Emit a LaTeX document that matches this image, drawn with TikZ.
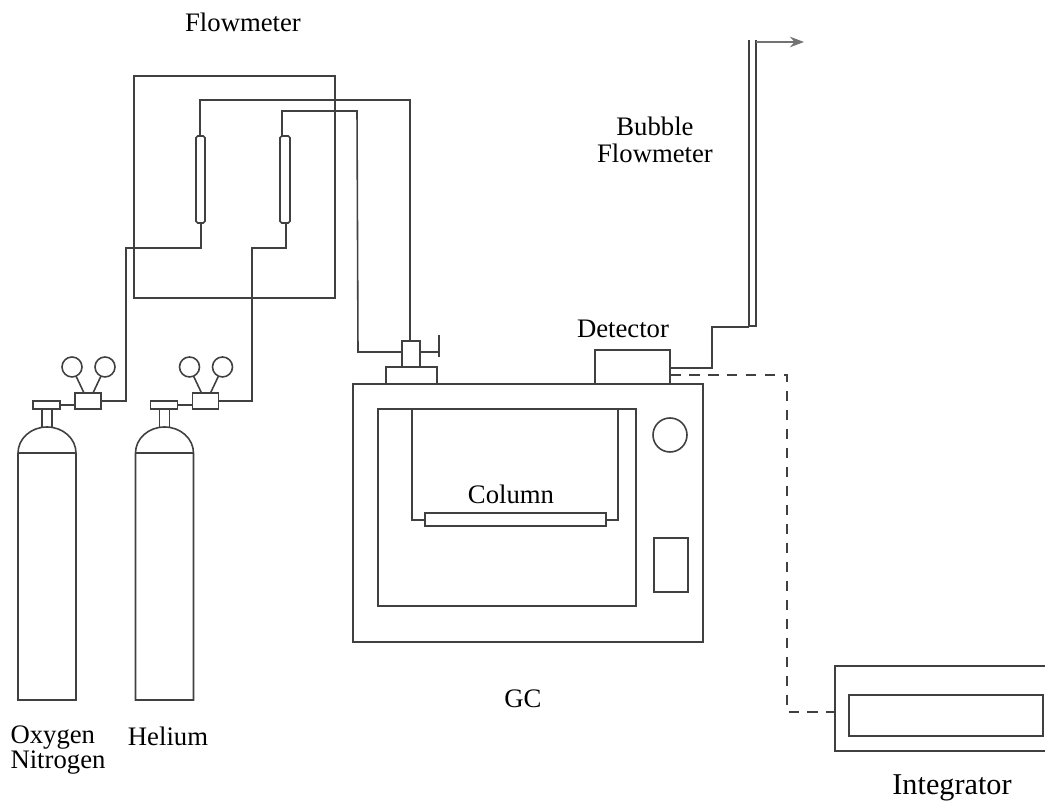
\documentclass[tikz,border=0pt]{standalone}
\usepackage{fontspec}
\setmainfont{Liberation Serif}
\usetikzlibrary{arrows.meta}
\tikzset{
    pipe/.style={black!75, line width=0.45pt},
    label/.style={font=\fontsize{7.6}{9}\selectfont, inner sep=0pt, align=center},
}
\begin{document}
\begin{tikzpicture}[y=-1cm]
    \useasboundingbox (0,0) rectangle (10.45,8.01);
    % gas bottles with regulators
    \foreach \dx in {0,1.175} {
        \begin{scope}[xshift=\dx cm]
            \draw[pipe] (0.18,7.00) -- (0.18,4.53) arc[start angle=180, end angle=360, x radius=0.29, y radius=0.26] -- (0.76,7.00) -- cycle;
            \draw[pipe] (0.18,4.53) -- (0.76,4.53);
            \draw[pipe] (0.42,4.27) -- (0.42,4.09);
            \draw[pipe] (0.52,4.27) -- (0.52,4.09);
            \draw[pipe] (0.33,4.01) rectangle (0.60,4.09);
            \draw[pipe] (0.60,4.05) -- (0.75,4.05);
            \draw[pipe] (0.75,3.93) rectangle (1.01,4.09);
            \draw[pipe] (0.72,3.67) circle (0.10);
            \draw[pipe] (1.05,3.67) circle (0.10);
            \draw[pipe] (0.76,3.76) -- (0.84,3.93);
            \draw[pipe] (1.01,3.76) -- (0.93,3.93);
        \end{scope}
    }
    % flowmeters
    \draw[pipe, rounded corners=0.5pt] (1.96,1.36) rectangle (2.05,2.23);
    \draw[pipe, rounded corners=0.5pt] (2.80,1.36) rectangle (2.90,2.23);
    % lines
    \draw[pipe] (1.01,4.01) -- (1.26,4.01) -- (1.26,2.48) -- (2.01,2.48) -- (2.01,2.23);
    \draw[pipe] (2.19,4.01) -- (2.52,4.01) -- (2.52,2.48) -- (2.86,2.48) -- (2.86,2.23);
    \draw[pipe] (2.00,1.36) -- (2.00,1.00) -- (4.10,1.00) -- (4.10,3.41);
    \draw[pipe] (2.82,1.36) -- (2.82,1.11) -- (3.57,1.11) -- (3.58,3.52) -- (4.02,3.52);
    \draw[pipe] (1.34,0.76) rectangle (3.35,2.98);
    % injector
    \draw[pipe] (4.02,3.41) rectangle (4.20,3.67);
    \draw[pipe] (3.86,3.84) -- (3.86,3.67) -- (4.37,3.67) -- (4.37,3.84);
    \draw[pipe] (4.20,3.52) -- (4.39,3.52);
    \draw[pipe] (4.39,3.35) -- (4.39,3.57);
    % GC oven
    \draw[pipe] (3.53,3.84) rectangle (7.03,6.42);
    \draw[pipe] (3.78,4.09) rectangle (6.36,6.06);
    \draw[pipe] (4.25,5.13) rectangle (6.06,5.26);
    \draw[pipe] (4.12,4.09) -- (4.12,5.20) -- (4.25,5.20);
    \draw[pipe] (6.06,5.20) -- (6.18,5.20) -- (6.18,4.09);
    \draw[pipe] (6.70,4.35) circle (0.17);
    \draw[pipe] (6.54,5.38) rectangle (6.88,5.92);
    % detector and bubble flowmeter
    \draw[pipe] (5.95,3.84) -- (5.95,3.50) -- (6.70,3.50) -- (6.70,3.84);
    \draw[pipe] (6.70,3.68) -- (7.12,3.68) -- (7.12,3.27) -- (7.49,3.27);
    \draw[pipe] (7.49,0.40) -- (7.49,3.26) -- (7.56,3.26) -- (7.56,0.40);
    \draw[black!55, line width=0.45pt, -{Stealth[length=4pt, width=3pt]}] (7.56,0.42) -- (8.04,0.42);
    % integrator
    \draw[pipe, dash pattern=on 3pt off 2.4pt] (6.70,3.75) -- (7.87,3.75) -- (7.87,7.12) -- (8.35,7.12);
    \draw[pipe] (10.45,6.66) -- (8.35,6.66) -- (8.35,7.51) -- (10.45,7.51);
    \draw[pipe] (8.49,6.95) rectangle (10.43,7.36);
    % labels
    \node[label] (flow) at (2.43,0.22) {Flowmeter};
    \node[label] (bubble) at (6.55,1.40) {Bubble\\[-1.3pt]Flowmeter};
    \node[label] (detector) at (6.23,3.29) {Detector};
    \node[label] (column) at (5.11,4.94) {Column};
    \node[label] (gc) at (5.23,6.99) {GC};
    \node[label, align=left] (bottle1) at (0.58,7.50) {Oxygen\\[-1.9pt]Nitrogen};
    \node[label] (bottle2) at (1.68,7.36) {Helium};
    \node[label, font=\fontsize{8.6}{10}\selectfont] (integrator) at (9.52,7.88) {Integrator};
\end{tikzpicture}
\end{document}
